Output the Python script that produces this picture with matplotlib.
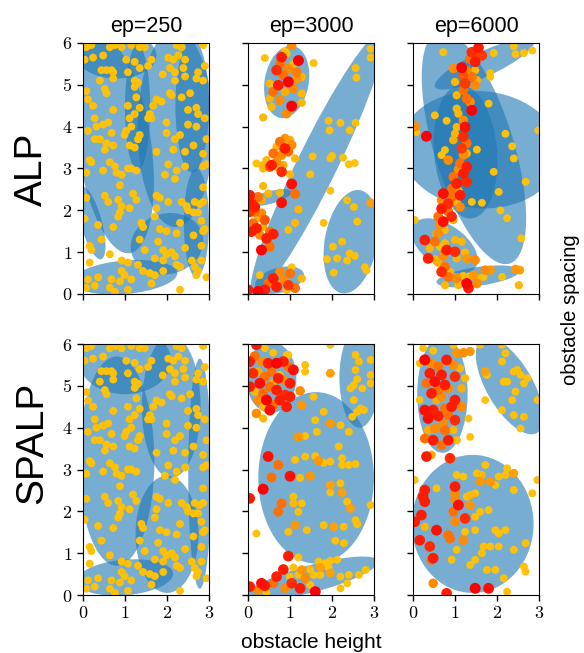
import numpy as np
import matplotlib
matplotlib.use("Agg")
import matplotlib.pyplot as plt
from matplotlib.patches import Ellipse
from matplotlib.colors import LinearSegmentedColormap

plt.rcParams['font.family'] = ['Liberation Sans', 'DejaVu Sans']
plt.rcParams['mathtext.fontset'] = 'cm'

epochs = ['ep=250', 'ep=3000', 'ep=6000']
methods = ['ALP', 'SPALP']

# initial samples (same for both methods at ep=250): x, y
start_x = [0.08, 0.2, 0.64, 0.76, 0.92, 1.15, 1.35, 1.47, 2.23, 2.35, 2.86,
           0.04, 0.24, 0.48, 1.03, 1.23, 1.63, 2.03, 2.15, 2.27, 2.43,
           0.72, 1.07, 1.35, 1.55, 2.07, 2.39, 2.9,
           0.44, 0.56, 0.68, 1.9, 2.19, 2.74,
           0.4, 0.72, 1.23, 1.31, 2.19, 2.43, 2.7, 2.86,
           0.08, 0.52, 0.56, 1.23, 1.27, 2.07, 2.11, 2.55,
           0.12, 0.24, 1.75, 1.87, 2.35,
           0.72, 1.07, 1.23, 1.35, 1.59, 1.67, 2.5, 2.7, 2.74,
           0.28, 0.32, 0.48, 0.6, 1.11, 1.15, 1.55, 1.63, 1.99, 2.5, 2.7, 2.9,
           0.12, 0.28, 0.4, 0.68, 0.99, 1.03, 1.31, 1.35, 1.99, 2.19, 2.31, 2.94,
           0.52, 0.56, 0.72, 1.11, 1.23, 1.75, 2.15, 2.43, 2.63, 2.86,
           0.16, 0.2, 0.64, 0.76, 1.07, 1.15, 1.27, 2.03, 2.23, 2.43, 2.86, 2.94,
           0.08, 0.48, 0.8, 0.92, 1.95, 2.19, 2.86,
           0.88, 1.19, 1.27, 1.75, 1.83, 2.03, 2.35, 2.47, 2.66, 2.78, 2.86,
           0.08, 0.52, 0.6, 0.84, 0.92, 1.11, 1.75, 2.5, 2.63, 2.74,
           0.04, 0.88, 0.84, 1.39, 1.71, 2.31, 2.82, 2.9,
           0.36, 0.72, 1.43, 1.83, 1.99, 2.23, 2.63, 2.86,
           0.44, 1.35, 1.79, 2.43, 2.82,
           0.16, 0.2, 1.47, 1.91, 1.99, 2.11, 2.19,
           0.64, 1.71, 1.91, 2.59, 2.82,
           0.16, 0.92, 1.07, 1.31, 2.23, 2.31, 2.66, 2.74,
           0.92, 0.99, 1.43, 1.59, 1.71, 1.91, 2.7, 2.94,
           0.12, 0.36, 0.68, 0.88, 1.15, 1.63,
           0.08, 0.28, 0.64, 0.76, 1.07, 2.31]
start_y = [5.9, 5.95, 5.9, 5.95, 5.9, 5.95, 5.9, 5.9, 5.95, 5.9, 5.95,
           5.6, 5.65, 5.7, 5.6, 5.55, 5.6, 5.65, 5.6, 5.7, 5.6,
           5.3, 5.3, 5.4, 5.45, 5.4, 5.4, 5.45,
           5.35, 5.35, 5.35, 5.25, 5.3, 5.3,
           5.1, 5.15, 5.1, 5.05, 5.1, 5.2, 5.15, 5.1,
           4.85, 4.9, 4.8, 4.95, 4.7, 4.8, 4.75, 4.8,
           4.65, 4.5, 4.65, 4.6, 4.7,
           4.4, 4.5, 4.3, 4.45, 4.3, 4.5, 4.4, 4.45, 4.3,
           4.2, 4.0, 4.05, 4.1, 4.2, 4.0, 4.2, 4.2, 4.1, 4.05, 4.0, 4.2,
           3.9, 3.7, 3.7, 3.85, 3.8, 3.9, 3.7, 3.8, 3.85, 3.7, 3.8, 3.7,
           3.45, 3.6, 3.55, 3.55, 3.5, 3.4, 3.45, 3.4, 3.55, 3.35,
           3.2, 3.15, 3.15, 3.05, 3.0, 3.0, 2.95, 3.1, 2.95, 3.05, 3.05, 3.1,
           2.9, 2.95, 2.9, 2.85, 2.85, 2.75, 2.55,
           2.6, 2.4, 2.25, 2.35, 2.3, 2.2, 2.2, 2.1, 2.2, 2.15, 2.2,
           2.3, 2.35, 2.2, 2.25, 2.1, 2.05, 2.05, 2.0, 1.95, 1.95,
           1.8, 1.95, 1.85, 1.7, 1.85, 1.7, 1.75, 1.55,
           1.65, 1.6, 1.6, 1.55, 1.5, 1.45, 1.4, 1.5,
           1.3, 1.3, 1.25, 1.1, 1.15,
           1.15, 1.05, 1.05, 1.05, 0.95, 1.0, 0.9,
           0.95, 0.85, 0.8, 0.8, 0.8,
           0.75, 0.8, 0.75, 0.7, 0.7, 0.65, 0.65, 0.55,
           0.55, 0.45, 0.55, 0.5, 0.45, 0.55, 0.45, 0.4,
           0.35, 0.4, 0.35, 0.3, 0.35, 0.25,
           0.15, 0.2, 0.15, 0.05, 0.1, 0.1]

# later samples: [x, y, reward-progress], 0 = low (gold), 1 = high (red)
alp_3000 = [
    [1.04, 5.94, 0.5], [0.88, 5.8, 0.0], [0.8, 5.66, 0.9], [1.2, 5.58, 1.0], [1.56, 5.52, 0.0],
    [0.4, 5.64, 0.0], [0.76, 5.5, 0.6], [0.96, 5.39, 0.5], [1.08, 5.5, 0.1], [0.68, 5.35, 0.85],
    [1.16, 5.3, 0.55], [0.84, 5.23, 0.6], [0.96, 5.07, 1.0], [1.28, 5.19, 0.1], [0.52, 5.03, 0.1],
    [0.72, 4.99, 0.9], [1.08, 4.91, 0.5], [1.28, 4.79, 0.1], [0.6, 4.83, 0.6], [0.88, 4.83, 0.2],
    [0.52, 4.67, 0.1], [1.04, 4.49, 1.0], [1.28, 4.57, 0.1], [0.92, 4.31, 0.5], [0.36, 4.22, 0.1],
    [0.76, 4.63, 0.5], [0.56, 4.47, 0.1], [1.16, 5.15, 0.4], [0.92, 5.74, 0.0],
    [0.88, 3.72, 0.4], [1.0, 3.68, 0.2], [0.76, 3.64, 0.6], [1.04, 3.56, 0.5], [0.68, 3.52, 0.1],
    [0.88, 3.48, 0.9], [0.96, 3.4, 0.6], [0.6, 3.36, 0.6], [0.8, 3.32, 0.5], [1.12, 3.24, 0.1],
    [0.44, 3.2, 0.1], [0.68, 3.16, 0.5], [0.2, 3.12, 0.0], [0.36, 3.08, 0.1], [0.56, 3.08, 0.9],
    [0.84, 3.08, 0.2], [0.52, 3.04, 0.7], [0.68, 3.04, 0.1], [0.8, 2.92, 0.85], [1.0, 2.86, 0.1],
    [0.36, 3.0, 0.1], [0.84, 3.48, 0.5], [0.76, 3.56, 0.1],
    [0.36, 2.58, 0.1], [1.04, 2.63, 0.95], [0.04, 2.36, 0.9], [0.24, 2.32, 0.6], [0.48, 2.4, 0.1],
    [0.76, 2.42, 0.1], [1.12, 2.39, 0.6], [0.08, 2.16, 0.9], [0.32, 2.24, 0.2], [0.8, 2.18, 0.95],
    [1.2, 2.02, 0.1], [0.16, 1.96, 0.6], [0.32, 1.93, 0.5], [0.24, 1.81, 0.1], [0.4, 1.77, 0.7],
    [0.12, 1.69, 0.6], [1.12, 1.7, 0.1], [0.2, 1.57, 0.9], [0.36, 1.61, 0.2], [0.08, 1.49, 0.9],
    [0.52, 1.49, 0.6], [0.28, 1.41, 0.5], [0.6, 1.43, 0.9], [0.44, 1.33, 0.9], [0.96, 1.53, 0.0],
    [0.52, 1.13, 0.6], [0.32, 1.05, 1.0], [0.16, 2.08, 0.9], [0.04, 1.96, 0.8],
    [1.04, 0.64, 0.0], [0.28, 0.45, 0.0], [0.76, 0.53, 0.5], [1.0, 0.49, 0.6], [1.28, 0.37, 0.1],
    [0.6, 0.37, 0.9], [0.48, 0.25, 0.6], [0.84, 0.33, 0.5], [0.68, 0.17, 0.9], [1.12, 0.14, 0.6],
    [0.4, 0.1, 0.9], [0.24, 0.06, 1.0], [0.0, 0.1, 0.9], [0.92, 0.1, 0.1], [0.96, 0.21, 0.8],
    [2.92, 5.86, 0.0], [2.92, 5.65, 0.0], [2.56, 5.4, 0.0], [2.58, 5.17, 0.0], [1.92, 4.14, 0.0],
    [2.2, 4.09, 0.0], [2.56, 4.09, 0.0], [1.94, 3.91, 0.0], [2.42, 3.91, 0.0], [1.54, 3.29, 0.0],
    [2.0, 3.3, 0.0], [1.96, 3.24, 0.0], [2.26, 3.26, 0.0], [2.4, 3.1, 0.0], [2.54, 3.13, 0.0],
    [1.48, 2.86, 0.0], [1.96, 2.47, 0.0], [2.92, 2.18, 0.3], [2.36, 2.24, 0.0], [2.52, 2.08, 0.0],
    [2.6, 1.73, 0.0], [1.8, 1.7, 0.0], [2.02, 1.13, 0.0], [2.24, 1.25, 0.0], [1.88, 0.83, 0.0],
    [2.12, 0.85, 0.0], [2.36, 0.8, 0.0], [2.42, 0.97, 0.0], [2.54, 0.91, 0.0], [2.04, 0.51, 0.0],
    [2.78, 0.64, 0.0], [2.82, 0.56, 0.0],
]

alp_6000 = [
    [1.56, 5.89, 0.9], [1.4, 5.78, 0.85], [1.52, 5.7, 0.7], [1.64, 5.7, 0.8], [1.36, 5.62, 0.6],
    [1.48, 5.55, 0.9], [1.16, 5.41, 1.0], [0.96, 5.39, 0.5], [1.28, 5.33, 0.5], [1.48, 5.35, 0.1],
    [1.2, 5.23, 0.7], [1.4, 5.19, 0.6], [1.52, 5.11, 0.2], [1.0, 5.07, 0.1], [1.24, 5.03, 0.8],
    [1.48, 4.99, 0.5], [1.2, 4.87, 0.6], [1.04, 4.75, 0.1], [1.28, 4.67, 0.6], [1.36, 4.59, 0.5],
    [1.4, 4.39, 1.0], [1.04, 4.43, 0.1], [1.08, 4.31, 0.1], [1.2, 4.15, 0.5], [1.04, 3.99, 0.1],
    [1.24, 3.99, 0.95], [1.0, 3.83, 0.1], [1.2, 3.76, 0.85], [0.96, 3.68, 0.2], [1.28, 3.6, 0.6],
    [1.16, 3.48, 0.8], [0.76, 3.44, 0.0], [0.68, 3.32, 0.0], [1.2, 3.32, 0.5], [1.28, 3.36, 0.1],
    [0.84, 3.2, 0.5], [1.12, 3.12, 0.6], [1.28, 3.04, 0.9], [1.08, 2.98, 0.5], [1.2, 2.88, 0.9],
    [0.96, 2.8, 0.6], [1.28, 2.68, 0.85], [1.04, 2.64, 0.9], [0.92, 2.52, 0.6], [1.08, 2.48, 0.2],
    [1.12, 2.36, 0.9], [0.72, 2.4, 0.95], [0.92, 2.32, 0.6], [0.68, 2.24, 0.5], [0.84, 2.16, 0.85],
    [1.04, 2.2, 0.1], [1.12, 2.08, 0.5], [0.68, 2.04, 0.9], [0.84, 1.97, 0.6], [0.92, 1.85, 0.85],
    [0.6, 1.85, 0.6], [0.72, 1.73, 0.95], [0.96, 1.77, 0.2], [0.64, 1.65, 0.5], [0.76, 1.53, 0.1],
    [0.6, 1.45, 0.5],
    [0.28, 1.29, 0.9], [0.56, 1.45, 0.1], [0.52, 1.25, 0.6], [0.4, 1.09, 0.1], [0.64, 1.13, 0.0],
    [0.76, 1.21, 0.1], [1.0, 1.29, 0.1], [1.16, 1.25, 0.1], [0.8, 1.05, 0.9], [1.0, 1.01, 0.85],
    [1.24, 0.99, 0.1], [0.36, 0.85, 0.9], [0.52, 0.83, 0.1], [0.72, 0.91, 0.5], [1.04, 0.85, 0.1],
    [1.28, 0.85, 0.4], [1.48, 0.81, 0.5], [0.6, 0.75, 0.2], [0.76, 0.65, 0.6], [0.68, 0.53, 0.85],
    [0.88, 0.53, 0.1],
    [0.84, 0.41, 0.6], [1.04, 0.37, 0.5], [1.2, 0.43, 0.1], [1.32, 0.41, 0.0], [1.44, 0.45, 0.4],
    [1.56, 0.37, 0.1], [1.72, 0.57, 0.5], [1.84, 0.57, 0.4], [1.28, 0.25, 1.0], [1.32, 0.14, 0.9],
    [1.08, 0.21, 0.1], [1.68, 0.41, 0.0], [2.12, 0.41, 0.0], [2.44, 0.59, 0.4], [2.54, 0.57, 0.3],
    [0.76, 0.21, 0.1], [2.52, 0.21, 0.1], [1.52, 0.25, 0.5],
    [0.72, 5.78, 0.0], [1.92, 5.76, 0.0], [2.4, 5.92, 0.0], [2.44, 5.73, 0.0], [2.64, 5.76, 0.0],
    [2.84, 5.82, 0.0], [1.84, 5.28, 0.0], [1.84, 5.19, 0.0], [1.8, 4.55, 0.0], [0.52, 4.27, 0.0],
    [0.8, 4.14, 0.0], [0.06, 4.0, 0.5], [0.08, 3.87, 0.0], [0.32, 3.77, 1.0], [2.2, 3.83, 0.0],
    [2.36, 3.53, 0.0], [2.4, 3.24, 0.0], [1.52, 3.45, 0.0], [1.92, 2.92, 0.0], [2.68, 2.68, 0.0],
    [2.04, 2.44, 0.0], [1.64, 2.18, 0.0], [1.4, 2.2, 0.0], [2.08, 2.0, 0.0], [2.24, 1.81, 0.0],
    [2.58, 1.33, 0.0], [0.04, 1.77, 0.0], [2.98, 3.91, 0.0],
]

spalp_3000 = [
    [0.2, 5.98, 0.9], [0.4, 5.9, 0.0], [0.6, 5.79, 0.0], [0.92, 5.74, 0.0], [0.16, 5.71, 0.6],
    [0.32, 5.58, 0.5], [0.04, 5.58, 0.9], [0.48, 5.54, 0.9], [0.68, 5.54, 1.0], [0.84, 5.58, 0.9],
    [0.96, 5.46, 0.6], [1.08, 5.38, 0.95], [0.24, 5.34, 0.2], [0.12, 5.3, 0.85], [0.56, 5.34, 0.6],
    [0.4, 5.22, 0.6], [0.72, 5.18, 0.9], [0.84, 5.14, 0.5], [0.28, 5.06, 0.95], [1.0, 5.06, 0.9],
    [0.04, 4.98, 0.9], [0.52, 4.98, 0.6], [0.68, 4.9, 0.9], [1.24, 4.88, 0.5], [0.16, 4.86, 0.1],
    [0.36, 4.82, 0.6], [0.88, 4.78, 0.85], [1.0, 4.74, 0.9], [0.44, 4.66, 1.0], [0.24, 4.66, 0.5],
    [0.76, 4.66, 0.9], [0.6, 4.54, 0.6], [0.36, 4.5, 0.1], [0.92, 4.5, 0.9], [0.52, 4.42, 0.95],
    [0.2, 4.34, 0.5], [0.36, 4.22, 0.1], [0.96, 5.74, 0.0], [1.36, 5.5, 0.0], [1.36, 5.34, 0.0],
    [1.96, 5.3, 0.3], [0.76, 5.26, 0.1], [0.6, 5.06, 0.2], [1.28, 4.54, 0.4],
    [1.56, 4.74, 0.0], [1.8, 4.38, 0.0], [1.6, 4.18, 0.0], [1.96, 4.1, 0.4], [2.2, 4.06, 0.0],
    [1.2, 3.78, 0.4], [1.36, 3.8, 0.0], [1.64, 3.9, 0.0], [2.4, 3.9, 0.0], [2.16, 3.55, 0.0],
    [0.48, 3.31, 0.95], [0.72, 3.11, 0.6], [1.12, 3.23, 0.0], [1.36, 3.31, 0.0], [1.6, 3.32, 0.0],
    [1.68, 3.21, 0.4], [1.8, 3.16, 0.0], [1.96, 3.19, 0.0], [2.24, 3.27, 0.0], [2.24, 3.11, 0.0],
    [2.4, 3.11, 0.0], [2.56, 3.13, 0.0], [1.0, 2.84, 0.95], [0.56, 2.81, 0.6], [1.24, 2.8, 0.0],
    [1.48, 2.84, 0.4], [0.36, 2.53, 1.0], [1.96, 2.63, 0.3], [2.2, 2.67, 0.0], [1.96, 2.45, 0.0],
    [2.24, 2.45, 0.3], [0.04, 2.31, 0.9], [1.08, 2.35, 0.0], [1.08, 2.19, 0.1], [1.28, 2.19, 0.0],
    [0.8, 2.19, 0.6], [0.72, 1.99, 0.6], [1.2, 1.99, 0.0], [2.36, 2.23, 0.0], [2.44, 2.07, 0.3],
    [2.92, 2.15, 0.0], [0.2, 1.47, 0.0], [0.96, 1.51, 0.0], [1.12, 1.67, 0.4], [1.4, 1.55, 0.0],
    [1.8, 1.67, 0.0], [2.04, 1.63, 0.3], [2.28, 1.63, 0.0], [2.56, 1.79, 0.0], [2.6, 1.69, 0.0],
    [2.08, 1.3, 0.0], [2.28, 1.24, 0.0], [0.96, 0.93, 0.9], [1.2, 0.9, 0.0],
    [0.84, 0.61, 0.9], [1.08, 0.66, 0.0], [1.28, 0.6, 0.4], [1.48, 0.61, 0.0], [1.68, 0.8, 0.0],
    [1.84, 0.76, 0.0], [1.96, 0.82, 0.0], [2.12, 0.84, 0.0], [1.72, 0.66, 0.3], [1.92, 0.66, 0.0],
    [1.56, 0.48, 0.0], [1.72, 0.48, 0.0], [1.96, 0.53, 0.3], [2.2, 0.44, 0.0], [2.4, 0.48, 0.0],
    [2.64, 0.48, 0.0], [2.8, 0.6, 0.0], [1.0, 0.44, 0.0], [1.2, 0.48, 0.0], [1.36, 0.4, 0.5],
    [0.68, 0.44, 0.9], [0.32, 0.28, 0.95], [0.4, 0.22, 0.9], [0.6, 0.28, 0.6], [0.88, 0.16, 0.5],
    [1.24, 0.16, 0.9], [0.04, 0.2, 0.9], [0.24, 0.12, 0.5], [1.6, 0.08, 1.0], [1.48, 0.24, 0.0],
    [2.2, 0.16, 0.0], [2.36, 0.28, 0.0], [1.04, 0.28, 0.85], [0.44, 0.04, 0.0],
    [1.96, 5.98, 0.0], [2.56, 5.74, 0.0], [2.64, 5.58, 0.0], [2.92, 5.62, 0.0], [2.56, 5.38, 0.0],
    [2.92, 5.26, 0.0], [2.6, 5.16, 0.0], [2.52, 5.02, 0.0], [2.44, 4.94, 0.0], [2.92, 5.06, 0.0],
    [2.72, 4.94, 0.0], [2.52, 4.66, 0.0], [2.68, 4.46, 0.0], [2.76, 4.42, 0.0], [2.6, 4.38, 0.0],
    [2.48, 4.26, 0.0],
]

spalp_6000 = [
    [0.24, 5.9, 0.0], [0.48, 5.84, 0.0], [0.96, 5.98, 0.0], [1.04, 5.79, 0.4], [1.2, 5.79, 0.5],
    [1.36, 5.82, 0.4], [0.28, 5.62, 1.0], [0.16, 5.54, 0.0], [0.44, 5.54, 0.5], [0.8, 5.62, 0.9],
    [0.6, 5.46, 0.6], [0.96, 5.5, 0.5], [1.12, 5.42, 0.1], [0.4, 5.3, 0.9], [0.68, 5.26, 0.9],
    [1.0, 5.22, 0.85], [1.24, 5.18, 0.1], [0.52, 5.1, 0.95], [0.32, 5.06, 0.6], [0.76, 5.02, 0.9],
    [0.84, 4.94, 0.5], [0.6, 4.9, 0.6], [0.44, 4.82, 0.9], [1.16, 4.94, 0.2], [0.68, 4.74, 0.5],
    [0.56, 4.66, 0.2], [0.16, 4.66, 0.0], [1.0, 4.66, 0.9], [0.28, 4.42, 0.95], [0.48, 4.42, 0.9],
    [0.76, 4.46, 0.6], [0.92, 4.5, 0.9], [1.16, 4.5, 0.5], [0.36, 4.22, 0.95], [0.6, 4.28, 0.9],
    [0.84, 4.3, 0.6], [1.0, 4.18, 0.85], [0.72, 4.1, 0.5], [1.32, 4.22, 0.0], [0.36, 3.94, 0.2],
    [0.52, 3.98, 0.5], [0.76, 3.94, 0.6], [0.96, 3.94, 0.1], [0.28, 3.74, 0.6], [0.48, 3.7, 0.9],
    [0.84, 3.7, 0.9], [0.68, 3.58, 0.6], [1.04, 3.7, 0.1], [1.36, 3.78, 0.0], [0.32, 3.31, 0.9],
    [0.44, 3.35, 0.2], [0.88, 3.27, 0.85], [1.72, 4.66, 0.0],
    [0.28, 2.51, 0.9], [0.24, 2.35, 0.9], [0.28, 2.23, 0.9], [0.04, 2.75, 0.0], [0.56, 2.55, 0.0],
    [1.04, 2.87, 0.0], [1.2, 2.83, 0.0], [1.0, 2.43, 0.5], [1.08, 2.15, 0.95], [1.28, 2.35, 0.0],
    [1.36, 2.39, 0.1], [1.48, 2.43, 0.0], [1.0, 2.27, 0.5], [0.96, 1.99, 0.6], [1.24, 1.83, 0.85],
    [1.0, 1.75, 0.5], [0.2, 1.91, 0.9], [0.04, 1.75, 0.9], [0.28, 1.63, 0.1], [0.56, 1.55, 0.95],
    [0.88, 1.35, 0.6], [1.2, 1.31, 0.5], [1.24, 1.51, 0.0], [1.48, 1.55, 0.0], [1.6, 1.99, 0.0],
    [1.8, 2.03, 0.0], [1.84, 2.71, 0.4], [1.96, 2.63, 0.0], [2.04, 2.83, 0.0], [2.24, 3.03, 0.0],
    [2.4, 2.91, 0.3], [1.52, 2.91, 0.0], [1.72, 3.11, 0.0], [1.64, 2.87, 0.1], [1.6, 2.71, 0.4],
    [2.4, 2.51, 0.0], [2.84, 2.43, 0.0], [2.96, 2.75, 0.0], [1.36, 2.15, 0.4], [1.48, 1.87, 0.0],
    [1.96, 1.55, 0.0], [2.04, 1.47, 0.0], [2.2, 1.55, 0.0], [2.4, 1.08, 0.0], [2.68, 1.24, 0.0],
    [1.68, 1.16, 0.0], [1.84, 1.16, 0.0], [2.04, 1.16, 0.0], [1.48, 0.84, 0.0], [1.36, 0.72, 0.0],
    [1.64, 1.0, 0.0], [1.96, 0.6, 0.0], [2.16, 0.4, 0.0], [2.64, 0.68, 0.0], [2.68, 0.56, 0.0],
    [0.92, 0.84, 0.0], [0.44, 0.84, 0.6], [0.48, 0.28, 0.5], [0.16, 1.31, 0.9], [0.4, 1.16, 0.85],
    [0.48, 0.88, 0.9], [1.48, 0.16, 1.0], [1.8, 0.16, 0.95], [0.8, 0.04, 0.9], [2.24, 0.08, 0.0],
    [1.0, 2.59, 0.9], [0.84, 1.43, 0.6], [1.04, 1.08, 0.0], [1.76, 0.6, 0.0], [2.2, 2.87, 0.0],
    [1.6, 5.98, 0.0], [2.12, 5.98, 0.0], [2.2, 5.78, 0.0], [2.12, 5.58, 0.0], [1.72, 5.34, 0.3],
    [1.76, 5.26, 0.0], [2.4, 5.34, 0.0], [2.48, 5.38, 0.0], [2.56, 5.26, 0.0], [2.16, 5.1, 0.0],
    [2.24, 5.1, 0.0], [2.64, 5.06, 0.0], [2.72, 5.18, 0.0], [2.44, 4.86, 0.0], [2.96, 4.66, 0.0],
    [2.12, 4.42, 0.0], [2.36, 4.66, 0.0], [2.64, 4.26, 0.0], [2.56, 3.98, 0.0], [2.4, 4.3, 0.0],
]

# fitted Gaussian components: (cx, cy, width, height, angle)
gmm_alp_250 = [(0.75, 3.55, 1.75, 5.2, 8), (0.8, 5.7, 1.9, 1.1, 0), (1.3, 4.45, 0.6, 3.0, 0),
               (2.2, 3.95, 1.8, 4.7, 0), (2.6, 4.5, 0.8, 3.2, 0), (2.7, 1.7, 0.6, 2.6, 0),
               (2.0, 1.2, 1.75, 1.45, 15), (1.0, 0.4, 2.5, 0.8, 5), (0.2, 1.7, 0.5, 1.8, 15)]
gmm_alp_3000 = [(0.92, 5.07, 1.05, 1.75, -10), (1.65, 3.1, 7.0, 0.95, 64), (2.45, 1.25, 1.25, 2.5, -10),
                (0.5, 2.3, 1.1, 0.3, 15), (0.75, 0.33, 1.2, 0.6, 15)]
gmm_alp_6000 = [(1.45, 3.5, 1.9, 5.8, 17), (1.6, 3.45, 3.8, 2.8, -5), (1.25, 3.4, 1.5, 3.2, 5),
                (1.7, 5.5, 2.6, 0.6, 25), (0.75, 1.15, 1.8, 1.0, -35), (1.55, 0.42, 2.0, 0.45, 8)]
gmm_spalp_250 = [(1.0, 5.6, 2.2, 1.6, 0), (0.8, 3.2, 1.8, 5.0, 0), (2.1, 4.5, 1.4, 3.4, 0),
                 (2.78, 2.9, 0.55, 5.5, 0), (2.0, 1.45, 1.5, 2.8, 0), (1.0, 0.42, 2.3, 0.85, 5)]
gmm_spalp_3000 = [(0.55, 5.2, 1.2, 1.7, 0), (1.62, 2.8, 2.75, 4.1, 0), (2.65, 5.2, 0.95, 2.4, 0),
                  (1.55, 0.4, 3.2, 0.65, 15)]
gmm_spalp_6000 = [(0.7, 4.8, 1.2, 2.8, 0), (2.3, 5.0, 1.1, 2.6, 30), (1.42, 1.7, 2.9, 3.3, 0)]

start = [[x, y, 0.0] for x, y in zip(start_x, start_y)]
points = [[start, alp_3000, alp_6000], [start, spalp_3000, spalp_6000]]
gmms = [[gmm_alp_250, gmm_alp_3000, gmm_alp_6000],
        [gmm_spalp_250, gmm_spalp_3000, gmm_spalp_6000]]

cmap = LinearSegmentedColormap.from_list('prog', ['#ffc107', '#ff8c00', '#ff0000'])

fig = plt.figure(figsize=(5.84, 6.53), dpi=100)
lefts = [0.1421, 0.4247, 0.7072]
bottoms = [0.5498, 0.0888]
w, h = 0.2158, 0.3844

for r in range(2):
    for c in range(3):
        ax = fig.add_axes([lefts[c], bottoms[r], w, h])
        for cx, cy, ew, eh, ang in gmms[r][c]:
            ax.add_patch(Ellipse((cx, cy), ew, eh, angle=ang, facecolor='C0',
                                 alpha=0.6, edgecolor='none', zorder=1))
        p = np.array(points[r][c])
        p = p[np.argsort(p[:, 2], kind='stable')]
        ax.scatter(p[:, 0], p[:, 1], c=cmap(p[:, 2]), s=32 + 30 * p[:, 2],
                   edgecolors='none', zorder=2)
        ax.set_xlim(0, 3)
        ax.set_ylim(0, 6)
        ax.set_xticks([0, 1, 2, 3])
        ax.set_yticks(range(7))
        ax.tick_params(direction='out', length=4, width=1)
        if c == 0:
            ax.set_yticklabels([f'${v}$' for v in range(7)], fontsize=13)
        else:
            ax.set_yticklabels([])
        if r == 1:
            ax.set_xticklabels([f'${v}$' for v in range(4)], fontsize=13)
        else:
            ax.set_xticklabels([])
            ax.set_title(epochs[c], fontsize=15.5, pad=8)

fig.text(0.055, 1 - 206 / 653, methods[0], rotation=90, fontsize=28, ha='center', va='bottom')
fig.text(0.055, 1 - 504 / 653, methods[1], rotation=90, fontsize=28, ha='center', va='bottom')
fig.text(311 / 584, 1 - 643 / 653, 'obstacle height', fontsize=15, ha='center', va='center')
fig.text(570 / 584, 1 - 310 / 653, 'obstacle spacing', fontsize=14.5, rotation=90,
         ha='center', va='center')

fig.savefig('out.png', dpi=100)
